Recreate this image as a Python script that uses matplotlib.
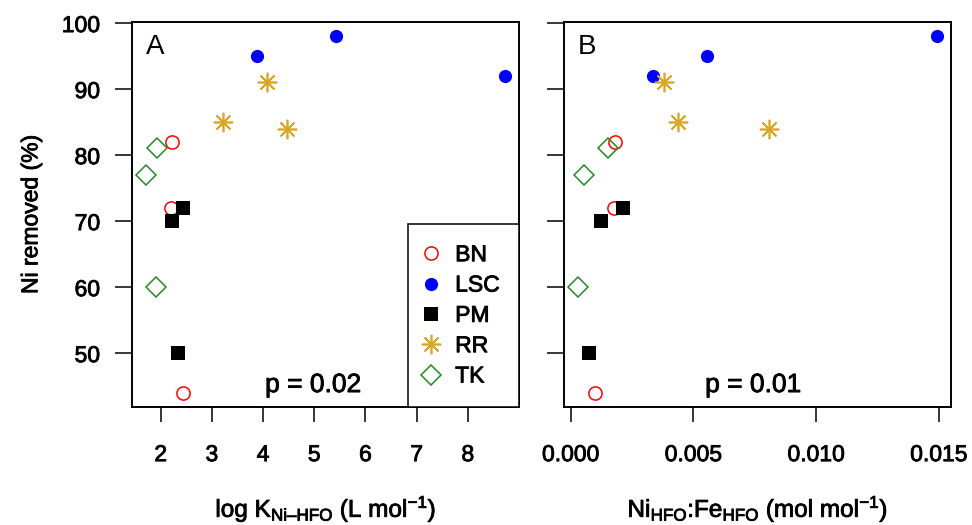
import matplotlib
matplotlib.use("Agg")
import matplotlib.pyplot as plt
import matplotlib.patheffects as pe

plt.rcParams['font.family'] = ['Liberation Sans', 'DejaVu Sans']
plt.rcParams['mathtext.fontset'] = 'custom'
plt.rcParams['mathtext.rm'] = 'Liberation Sans'
plt.rcParams['mathtext.it'] = 'Liberation Sans:italic'

# donnees
sites = ["BN", "LSC", "PM", "RR", "TK"]
ni_removed = {
    "BN": [82, 72, 44],
    "LSC": [95, 98, 92],
    "PM": [72, 70, 50],
    "RR": [91, 85, 84],
    "TK": [81, 77, 60],
}
logK = {
    "BN": [2.22, 2.21, 2.44],
    "LSC": [3.88, 5.43, 8.72],
    "PM": [2.43, 2.23, 2.33],
    "RR": [4.07, 3.21, 4.47],
    "TK": [1.93, 1.72, 1.90],
}
ratio = {
    "BN": [0.00182, 0.00175, 0.00101],
    "LSC": [0.00555, 0.01491, 0.00334],
    "PM": [0.00212, 0.00124, 0.00075],
    "RR": [0.0038, 0.00438, 0.00808],
    "TK": [0.00154, 0.00053, 0.0003],
}
xticksA = [2, 3, 4, 5, 6, 7, 8]
xticksB = [0.000, 0.005, 0.010, 0.015]
yticks = [50, 60, 70, 80, 90, 100]

styles = {
    "BN": dict(marker='o', mfc='none', mec='red', ms=9.5, mew=1.1),
    "LSC": dict(marker='o', mfc='blue', mec='blue', ms=9.5, mew=0),
    "PM": dict(marker='s', mfc='black', mec='black', ms=9.5, mew=0),
    "RR": dict(marker=(8, 2, 0), mfc='goldenrod', mec='goldenrod', ms=14, mew=1.2),
    "TK": dict(marker='D', mfc='none', mec='forestgreen', ms=10, mew=1.1),
}

epais = [pe.withStroke(linewidth=0.6, foreground='black')]


def r_lim(vals):
    lo, hi = min(vals), max(vals)
    d = 0.04 * (hi - lo)
    return lo - d, hi + d


fig = plt.figure(figsize=(9.72, 5.25), dpi=100)
axA = fig.add_axes([132/972, 1-407/525, 387/972, 385/525])
axB = fig.add_axes([563.7/972, 1-407/525, 387.3/972, 385/525])

allY = sum(ni_removed.values(), [])
handles = []
for s in sites:
    h, = axA.plot(logK[s], ni_removed[s], linestyle='none', label=s, **styles[s])
    handles.append(h)
    axB.plot(ratio[s], ni_removed[s], linestyle='none', **styles[s])

axA.set_xlim(*r_lim(sum(logK.values(), [])))
axB.set_xlim(*r_lim(sum(ratio.values(), [])))
for ax in (axA, axB):
    ax.set_ylim(*r_lim(allY))
    ax.set_yticks(yticks)
    for sp in ax.spines.values():
        sp.set_linewidth(1.4)
    ax.tick_params(axis='y', length=12, width=1.1, pad=11, labelsize=16.5)
    ax.tick_params(axis='x', length=11, width=1.1, pad=15, labelsize=16.5)

axA.set_xticks(xticksA)
axB.set_xticks(xticksB)
axB.set_xticklabels(["%.3f" % v for v in xticksB])
axA.set_yticklabels([str(v) for v in yticks])
axB.set_yticklabels([])

axA.set_ylabel("Ni removed (%)", fontsize=16.5, labelpad=14)
axA.set_xlabel(r"log K$_{\mathregular{Ni–HFO}}$ (L mol$^{\mathregular{-1}}$)", fontsize=17.5, labelpad=20)
axB.set_xlabel(r"Ni$_{\mathregular{HFO}}$:Fe$_{\mathregular{HFO}}$ (mol mol$^{\mathregular{-1}}$)", fontsize=17.5, labelpad=20)

axA.text(0.036, 0.935, "A", transform=axA.transAxes, fontsize=20, va='center', ha='left')
axB.text(0.036, 0.935, "B", transform=axB.transAxes, fontsize=20, va='center', ha='left')
pA = axA.text(0.468, 0.057, "p = 0.02", transform=axA.transAxes, fontsize=19, ha='center', va='center')
pB = axB.text(0.489, 0.057, "p = 0.01", transform=axB.transAxes, fontsize=19, ha='center', va='center')

leg = axA.legend(handles=handles, loc='lower right', borderaxespad=0, fancybox=False,
                 framealpha=1, edgecolor='black', fontsize=16.5, handlelength=0.3,
                 handletextpad=0.9, labelspacing=0.32, borderpad=0.85)
leg.get_frame().set_linewidth(1.1)

# texte un peu plus gras comme sur l'original
textes = [axA.xaxis.label, axB.xaxis.label, axA.yaxis.label, pA, pB]
textes += leg.get_texts()
for ax in (axA, axB):
    textes += ax.get_xticklabels() + ax.get_yticklabels()
for t in textes:
    t.set_path_effects(epais)

fig.savefig("out.png", dpi=100)
